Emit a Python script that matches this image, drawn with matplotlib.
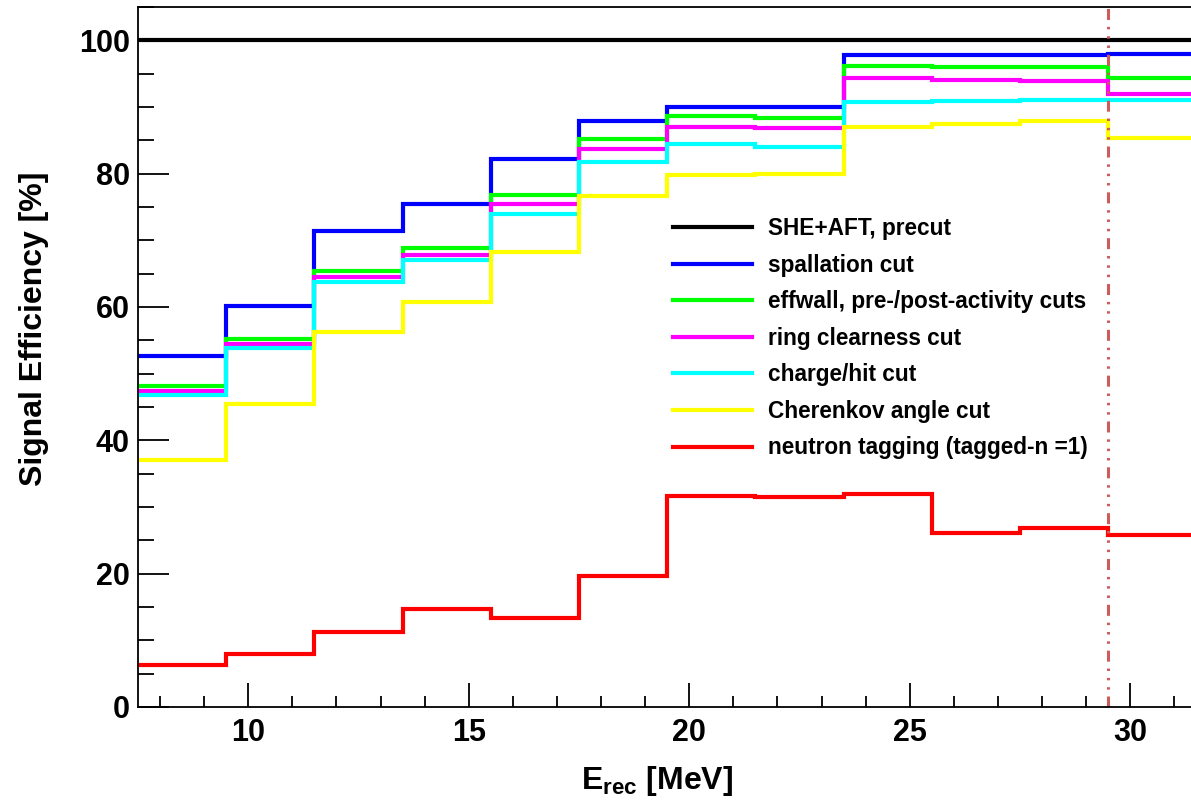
import matplotlib
matplotlib.use("Agg")
import matplotlib.pyplot as plt
from matplotlib.lines import Line2D
from matplotlib.ticker import MultipleLocator

plt.rcParams["font.family"] = ["Liberation Sans", "DejaVu Sans"]
plt.rcParams["font.weight"] = "bold"
plt.rcParams["mathtext.fontset"] = "custom"
plt.rcParams["mathtext.rm"] = "Liberation Sans:bold"
plt.rcParams["mathtext.it"] = "Liberation Sans:bold"
plt.rcParams["mathtext.bf"] = "Liberation Sans:bold"

# bin edges of E_rec [MeV]
edges = [7.5, 9.5, 11.5, 13.5, 15.5, 17.5, 19.5, 21.5, 23.5, 25.5, 27.5, 29.5, 31.5]

# signal efficiency [%] per bin, after each successive cut
precut = [100, 100, 100, 100, 100, 100, 100, 100, 100, 100, 100, 100]
spallation = [52.6, 60.2, 71.4, 75.4, 82.2, 87.9, 90.0, 90.0, 97.8, 97.8, 97.8, 98.0]
effwall = [48.2, 55.2, 65.4, 68.9, 76.8, 85.2, 88.6, 88.4, 96.2, 96.0, 96.0, 94.4]
ring = [47.4, 54.4, 64.5, 67.8, 75.5, 83.7, 87.0, 86.8, 94.3, 94.1, 93.9, 91.9]
charge_hit = [46.8, 53.8, 63.7, 67.0, 74.0, 81.8, 84.5, 84.0, 90.8, 90.9, 91.0, 91.0]
cherenkov = [37.1, 45.5, 56.2, 60.7, 68.2, 76.6, 79.8, 79.9, 87.0, 87.4, 87.9, 85.4]
ntag = [6.3, 7.9, 11.2, 14.7, 13.3, 19.7, 31.6, 31.5, 31.9, 26.1, 26.8, 25.8]

labels = ["SHE+AFT, precut", "spallation cut", "effwall, pre-/post-activity cuts",
          "ring clearness cut", "charge/hit cut", "Cherenkov angle cut",
          "neutron tagging (tagged-n =1)"]
series = [precut, spallation, effwall, ring, charge_hit, cherenkov, ntag]
colors = ["#000000", "#0000ff", "#00ff00", "#ff00ff", "#00ffff", "#ffff00", "#ff0000"]

cut_energy = 29.5

W, H = 1191, 807
fig = plt.figure(figsize=(W / 100, H / 100), dpi=100)
# left spine at 138 px, bottom at 707 px, top at 7 px; right side cropped
ax = fig.add_axes([138 / W, 1 - 707 / H, 1 - 138 / W, 700 / H])

for vals, c in zip(series, colors):
    ax.stairs(vals, edges, baseline=None, color=c, linewidth=3.0)

ax.axvline(cut_energy, color="#cd5c5c", linewidth=2.2,
           linestyle=(0, (3.6, 2.25, 0.8, 2.25, 0.8, 2.25, 0.8, 2.25)))

ax.set_xlim(7.5, 7.5 + (W - 138) / 44.1)
ax.set_ylim(0, 105)

ax.xaxis.set_major_locator(MultipleLocator(5))
ax.xaxis.set_minor_locator(MultipleLocator(1))
ax.yaxis.set_major_locator(MultipleLocator(20))
ax.yaxis.set_minor_locator(MultipleLocator(5))

ax.tick_params(axis="both", which="both", direction="in", width=1.3,
               labelsize=22, color="black")
ax.tick_params(axis="x", which="major", length=17, pad=8)
ax.tick_params(axis="x", which="minor", length=8)
ax.tick_params(axis="y", which="major", length=22, pad=6)
ax.tick_params(axis="y", which="minor", length=11.5)
for lab in ax.get_xticklabels() + ax.get_yticklabels():
    lab.set_fontweight("bold")

for side in ["left", "bottom", "top"]:
    ax.spines[side].set_linewidth(1.3)
ax.spines["right"].set_visible(False)

ax.set_xlabel(r"$E_{rec}$ [MeV]", fontsize=23, fontweight="bold")
ax.xaxis.set_label_coords(0.493, -0.106)
ax.xaxis.label.set_va("center")
ax.set_ylabel("Signal Efficiency [%]", fontsize=23, fontweight="bold")
ax.yaxis.set_label_coords(-0.0985, 0.54)
ax.yaxis.label.set_va("center")

handles = [Line2D([], [], color=c, linewidth=3.0) for c in colors]
leg = ax.legend(handles, labels, loc="upper left",
                bbox_to_anchor=(673 / W, 1 - 217 / H),
                bbox_transform=fig.transFigure, frameon=False,
                prop={"family": "Liberation Sans", "weight": "bold", "size": 16.3},
                handlelength=3.5, handletextpad=0.7, labelspacing=0.6,
                borderpad=0, borderaxespad=0)

fig.savefig("out.png", dpi=100)
